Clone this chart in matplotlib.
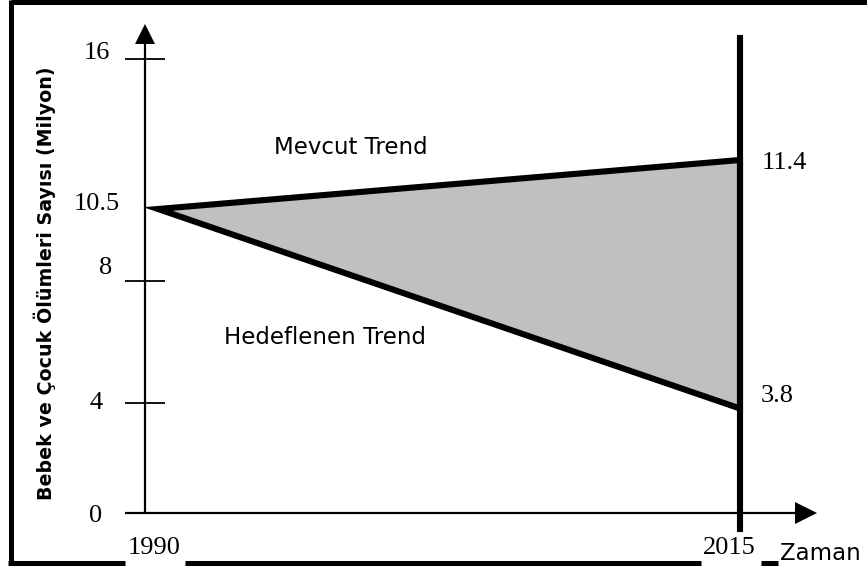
import numpy as np
import matplotlib
matplotlib.use("Agg")
import matplotlib.pyplot as plt
import matplotlib.transforms as mtransforms
from matplotlib.patches import Polygon

# ---------------- data ----------------
years = [1990, 2015]
start_value = 10.5
current_trend_end = 11.4
target_trend_end = 3.8
ytick_values = [16, 10.5, 8, 4, 0]
ytick_labels = ["16", "10.5", "8", "4", "0"]
ytick_marks = [16, 8, 4]
xtick_labels = ["1990", "2015"]
ylabel = "Bebek ve Çocuk Ölümleri Sayısı (Milyon)"
xlabel = "Zaman"
label_current = "Mevcut Trend"
label_target = "Hedeflenen Trend"

# ---------------- layout ----------------
W, H = 867, 571
fig = plt.figure(figsize=(W / 100, H / 100), dpi=100)
ax = fig.add_axes([0, 0, 1, 1])
ax.axis("off")

# x scale: 1990 -> px 158, 2015 -> px 740
px_1990, px_2015 = 158.0, 740.0
ppy = (px_2015 - px_1990) / (years[1] - years[0])
x0 = years[0] - px_1990 / ppy
ax.set_xlim(x0, x0 + W / ppy)

# schematic (non proportional) y scale, pixel rows from top for key values
knot_vals = np.array([-1000, 0, 4, 8, 10.5, 11.4, 16, 1000], dtype=float)
knot_rows = np.array([513 + 1000 * 27.6, 513, 403, 281, 209, 160, 59, 59 - 984 * 27.6])
knot_d = H - knot_rows


def fwd(v):
    return np.interp(np.asarray(v, dtype=float), knot_vals, knot_d)


def inv(d):
    return np.interp(np.asarray(d, dtype=float), knot_d, knot_vals)


ax.set_yscale("function", functions=(fwd, inv))
ax.set_ylim(float(inv(0)), float(inv(H)))

# pixel transform (origin top-left)
T = mtransforms.Affine2D().scale(1, -1).translate(0, H)
# x in pixels, y in data
TXpix = mtransforms.blended_transform_factory(T, ax.transData)

# ---------------- frame ----------------
fw = 5
frame_kw = dict(color="black", lw=fw * 0.72, solid_capstyle="butt", transform=T, clip_on=False)
ax.plot([10.5, W], [1.5, 1.5], **frame_kw)
ax.plot([10.5, 10.5], [0, 565], **frame_kw)
for a, b in [(8, 125), (185, 701), (761, 778)]:
    ax.plot([a, b], [562.5, 562.5], **frame_kw)

# ---------------- axes with arrows ----------------
yaxis_px = 145
ax.plot([yaxis_px, yaxis_px], [0, 16.6], color="black", lw=1.6, transform=TXpix, solid_capstyle="butt")
ax.plot([yaxis_px], [16.9], marker="^", ms=14.4, color="black", transform=TXpix, mew=0)
ax.plot([125, 798], [0, 0], color="black", lw=1.6, transform=TXpix, solid_capstyle="butt")
ax.plot([806], [0], marker=">", ms=15.5, color="black", transform=TXpix, mew=0)
for v in ytick_marks:
    ax.plot([125, 165], [v, v], color="black", lw=1.3, transform=TXpix, solid_capstyle="butt")

serif = "Liberation Serif"
fs_serif = 19
lab_cx = [97, 97, 106, 96, 96]
lab_dy = [6, 5, 13, 0, -3]
for v, t, cx, dy in zip(ytick_values, ytick_labels, lab_cx, lab_dy):
    ax.annotate(t, xy=(cx, v), xycoords=TXpix, xytext=(0, dy), textcoords="offset pixels",
                ha="center", va="center", fontsize=fs_serif, family=serif)

# ---------------- data marks ----------------
tri = Polygon([[years[0], start_value], [years[1], current_trend_end], [years[1], target_trend_end]],
              closed=True, facecolor="#c0c0c0", edgecolor="black", lw=4.4, joinstyle="miter", zorder=3)
ax.add_patch(tri)
ax.axvline(years[1], ymin=(H - 529) / H, ymax=(H - 38) / H, color="black", lw=4.4, zorder=4)

ax.annotate(f"{current_trend_end}", xy=(years[1], current_trend_end), xytext=(22, -3),
            textcoords="offset pixels", ha="left", va="center", fontsize=fs_serif, family=serif)
ax.annotate(f"{target_trend_end}", xy=(years[1], target_trend_end), xytext=(21, 13),
            textcoords="offset pixels", ha="left", va="center", fontsize=fs_serif, family=serif)

ax.text(351, 147, label_current, transform=T, ha="center", va="center", fontsize=16.5, family="DejaVu Sans")
ax.text(325, 338, label_target, transform=T, ha="center", va="center", fontsize=16.5, family="DejaVu Sans")

ax.text(154, 548, xtick_labels[0], transform=T, ha="center", va="center", fontsize=fs_serif, family=serif)
ax.text(729, 548, xtick_labels[1], transform=T, ha="center", va="center", fontsize=fs_serif, family=serif)
ax.text(820, 554, xlabel, transform=T, ha="center", va="center", fontsize=16.5, family="DejaVu Sans")

ax.text(45, 283, ylabel, transform=T, ha="center", va="center", rotation=90,
        fontsize=13.7, fontweight="bold", family="DejaVu Sans")

fig.savefig("out.png", dpi=100)
